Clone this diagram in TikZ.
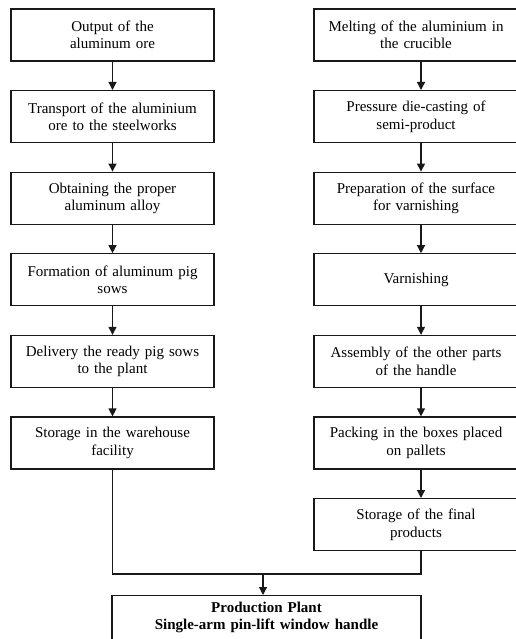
\documentclass[tikz,border=0pt]{standalone}
\usepackage{fontspec}
\setmainfont{Liberation Serif}
\usetikzlibrary{arrows.meta}
\begin{document}
\begin{tikzpicture}[x=1pt,y=-1pt,
  box/.style={draw=black!90, line width=1.2pt, rectangle, minimum width=203pt, minimum height=52pt,
    text width=198pt, align=center, inner sep=0pt, font=\fontsize{15}{17.5}\selectfont},
  rbox/.style={box, minimum width=204pt},
  fbox/.style={box, minimum width=309pt, minimum height=70pt, text width=300pt, font=\fontsize{15}{17}\selectfont\bfseries},
  arr/.style={draw=black!90, line width=1.2pt, -{Triangle[width=8pt,length=8pt]}},
  ln/.style={draw=black!90, line width=1.2pt}]
\useasboundingbox (0,0) rectangle (516,639);
\clip (0,0) rectangle (516,639);
\fill[white] (0,0) rectangle (516,639);
% left column
\node[box] (l1) at (112.5,35) {Output of the\\aluminum ore};
\node[box] (l2) at (112.5,116.6) {Transport of the aluminium\\ore to the steelworks};
\node[box] (l3) at (112.5,198.2) {Obtaining the proper\\aluminum alloy};
\node[box] (l4) at (112.5,279.8) {Formation of aluminum pig\\sows};
\node[box] (l5) at (112.5,361.4) {Delivery the ready pig sows\\to the plant};
\node[box] (l6) at (112.5,443) {Storage in the warehouse\\facility};
% right column
\node[rbox] (r1) at (416,35) {Melting of the aluminium in\\the crucible};
\node[rbox] (r2) at (416,116.6) {Pressure die-casting of\\semi-product};
\node[rbox] (r3) at (416,198.2) {Preparation of the surface\\for varnishing};
\node[rbox] (r4) at (416,279.8) {Varnishing};
\node[rbox] (r5) at (416,361.4) {Assembly of the other parts\\of the handle};
\node[rbox] (r6) at (416,443) {Packing in the boxes placed\\on pallets};
\node[rbox] (r7) at (416,524.6) {Storage of the final\\products};
% final
\node[fbox, anchor=north] (f) at (266.5,595) {Production Plant\\Single-arm pin-lift window handle\\[12pt]~};
% arrows
\foreach \a/\b in {l1/l2,l2/l3,l3/l4,l4/l5,l5/l6}
  \draw[arr] (\a.south) -- (\b.north);
\foreach \a/\b in {r1/r2,r2/r3,r3/r4,r4/r5,r5/r6,r6/r7}
  \draw[arr] ([xshift=5pt]\a.south) -- ([xshift=5pt]\b.north);
\coordinate (m) at (263,574);
\draw[ln] (l6.south) |- (m) -| ([xshift=5pt]r7.south);
\draw[arr] (m) -- (m |- f.north);
\end{tikzpicture}
\end{document}
